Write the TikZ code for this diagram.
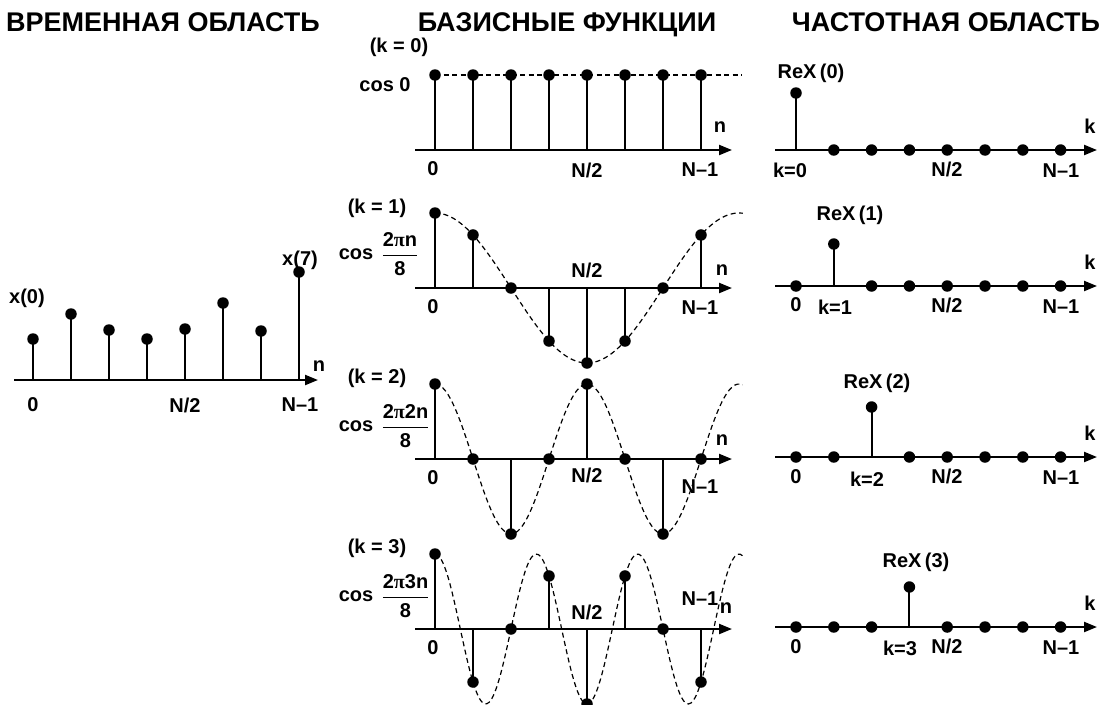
\documentclass[tikz,border=0pt]{standalone}
\usepackage{amsmath}
\usepackage{fontspec}
\setmainfont{Liberation Sans}
\newfontfamily\grk{Liberation Serif}
\usetikzlibrary{arrows.meta,positioning}
\tikzstyle{dot} = [circle, fill, inner sep=0pt, minimum size=11.5pt]
\tikzstyle{stem} = [draw, line width=1.9pt]
\tikzstyle{axis} = [draw, line width=2.2pt, -{Triangle[length=13pt,width=10pt]}]
\tikzstyle{wave} = [draw, line width=1.2pt, dash pattern=on 5pt off 3.5pt]
\tikzstyle{lbl} = [inner sep=0pt, font=\fontsize{20}{24}\selectfont\bfseries]
\tikzstyle{head} = [inner sep=0pt, anchor=base, font=\fontsize{27}{32}\selectfont\bfseries]
\newcommand{\basfrac}[1]{$\dfrac{\mbox{#1}}{\mbox{8}}$}

\begin{document}
\begin{tikzpicture}[x=1pt, y=-1pt]
		\useasboundingbox (0,0) rectangle (1105,704);
		% headings
		\node [head] (hTime) at (163,31) {ВРЕМЕННАЯ ОБЛАСТЬ};
		\node [head] (hBasis) at (567,31) {БАЗИСНЫЕ ФУНКЦИИ};
		\node [head] (hFreq) at (946,31) {ЧАСТОТНАЯ ОБЛАСТЬ};
		% time domain
		\coordinate (tA) at (14,380);
		\coordinate (tB) at (318,380);
		\path [axis] (tA) -- (tB);
		\foreach \i/\h in {0/339,1/314,2/330,3/339,4/329,5/303,6/331,7/272} {
			\coordinate (xb\i) at (33+38*\i,380);
			\node [dot] (x\i) at (33+38*\i,\h) {};
			\path [stem] (xb\i) -- (x\i.center);
		}
		\node [lbl] (lx0) at (27,298) {x(0)};
		\node [lbl] (lx7) at (300,260) {x(7)};
		\node [lbl] (ltn) at (319,366) {n};
		\node [lbl] (lt0) at (33,405) {0};
		\node [lbl] (ltm) at (185,405) {N/2};
		\node [lbl] (ltN) at (300,405) {N--1};
		% basis functions
		\foreach \k/\y in {0/150,1/288,2/459,3/629} {
			\coordinate (bA\k) at (415,\y);
			\coordinate (bB\k) at (732,\y);
			\path [axis] (bA\k) -- (bB\k);
			\foreach \n in {0,...,7} {
				\pgfmathsetmacro\v{\y-75*cos(45*\k*\n)}
				\coordinate (bb\k-\n) at (435+38*\n,\y);
				\node [dot] (b\k-\n) at (435+38*\n,\v) {};
				\path [stem] (bb\k-\n) -- (b\k-\n.center);
			}
		}
		\coordinate (bEnd0) at (742,75);
		\path [wave] (b0-0.center) -- (bEnd0);
		\foreach \k/\y in {1/288,2/459,3/629}
			\path [wave] plot[domain=0:8.1, samples=120, smooth] ({435+38*\x},{\y-75*cos(45*\k*\x)});
		\node [lbl] (lk0) at (399,47) {(k = 0)};
		\node [lbl] (lc0) at (385,85) {cos 0};
		\node [lbl] (lk1) at (377,208) {(k = 1)};
		\node [lbl] (lc1) at (356,254) {cos};
		\node [lbl, right=8pt of lc1] (lf1) {\basfrac{2{\grk π}n}};
		\node [lbl] (lk2) at (377,378) {(k = 2)};
		\node [lbl] (lc2) at (356,426) {cos};
		\node [lbl, right=8pt of lc2] (lf2) {\basfrac{2{\grk π}2n}};
		\node [lbl] (lk3) at (377,548) {(k = 3)};
		\node [lbl] (lc3) at (356,596) {cos};
		\node [lbl, right=8pt of lc3] (lf3) {\basfrac{2{\grk π}3n}};
		\foreach \k/\y/\ym/\yN in {0/150/170/170,1/288/270/308,2/459/475/487,3/629/612/599} {
			\node [lbl] (lb0\k) at (433,\y+19) {0};
			\node [lbl] (lbm\k) at (587,\ym) {N/2};
			\node [lbl] (lbN\k) at (700,\yN) {N--1};
		}
		\node [lbl] (lbn0) at (720,127) {n};
		\node [lbl] (lbn1) at (722,270) {n};
		\node [lbl] (lbn2) at (722,440) {n};
		\node [lbl] (lbn3) at (726,608) {n};
		% frequency domain
		\foreach \k/\y/\h in {0/150/57,1/286/42,2/457/50,3/627/40} {
			\coordinate (rA\k) at (775,\y);
			\coordinate (rB\k) at (1097,\y);
			\path [axis] (rA\k) -- (rB\k);
			\foreach \n in {0,...,7} {
				\pgfmathsetmacro\v{\y-(\n==\k)*\h}
				\coordinate (rb\k-\n) at (796+37.8*\n,\y);
				\node [dot] (r\k-\n) at (796+37.8*\n,\v) {};
				\path [stem] (rb\k-\n) -- (r\k-\n.center);
			}
			\node [lbl] (lrkk\k) at (1090,\y-24) {k};
			\node [lbl] (lrm\k) at (947,\y+19) {N/2};
			\node [lbl] (lrN\k) at (1061,\y+21) {N--1};
		}
		\node [lbl] (lrX0) at (811,73) {ReX\,(0)};
		\node [lbl] (lrX1) at (850,215) {ReX\,(1)};
		\node [lbl] (lrX2) at (877,383) {ReX\,(2)};
		\node [lbl] (lrX3) at (916,562) {ReX\,(3)};
		\node [lbl] (lrk0) at (790,170) {k=0};
		\node [lbl] (lr01) at (796,305) {0};
		\node [lbl] (lrk1) at (835,307) {k=1};
		\node [lbl] (lr02) at (796,477) {0};
		\node [lbl] (lrk2) at (867,479) {k=2};
		\node [lbl] (lr03) at (796,647) {0};
		\node [lbl] (lrk3) at (900,648) {k=3};
	\end{tikzpicture}
\end{document}
